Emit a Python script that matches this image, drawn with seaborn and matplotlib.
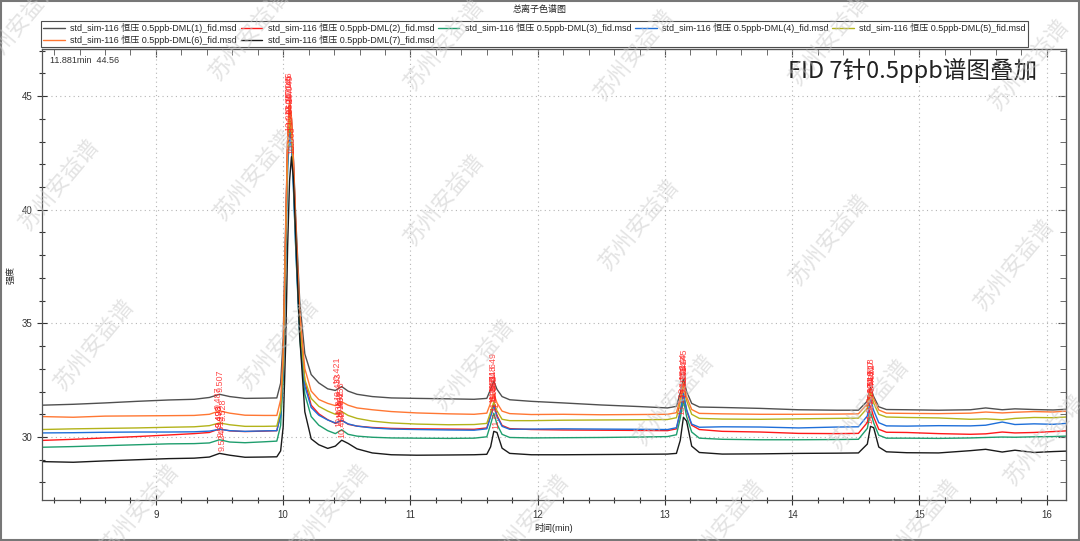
import numpy as np
import pandas as pd
import matplotlib
matplotlib.use("Agg")
import matplotlib.pyplot as plt
from matplotlib.patches import Rectangle
from matplotlib.ticker import MultipleLocator
import seaborn as sns

# 保留时间 (min)
time_min = [8.10, 8.35, 8.60, 8.85, 9.10, 9.30, 9.42, 9.50, 9.58, 9.70,
            9.85, 9.95, 9.98, 10.00, 10.02, 10.035, 10.05, 10.065, 10.08, 10.10,
            10.13, 10.17, 10.22, 10.28, 10.35, 10.41, 10.46, 10.51, 10.58, 10.70,
            10.85, 11.05, 11.30, 11.50, 11.60, 11.63, 11.655, 11.68, 11.72, 11.78,
            11.95, 12.20, 12.50, 12.80, 13.02, 13.09, 13.12, 13.145, 13.17, 13.21,
            13.27, 13.45, 13.75, 14.05, 14.35, 14.52, 14.59, 14.615, 14.64, 14.68,
            14.74, 14.90, 15.15, 15.40, 15.52, 15.65, 15.75, 15.90, 16.05, 16.15]

dml1 = [31.40, 31.44, 31.50, 31.57, 31.63, 31.66, 31.74, 31.88, 31.78, 31.70,
        31.71, 31.72, 32.37, 34.30, 39.46, 43.07, 44.62, 43.98, 42.30, 39.46,
        35.98, 33.66, 32.75, 32.38, 32.12, 32.05, 32.22, 32.02, 31.88, 31.78,
        31.72, 31.70, 31.68, 31.66, 31.70, 32.10, 32.46, 32.10, 31.78, 31.64,
        31.57, 31.50, 31.41, 31.34, 31.28, 31.35, 31.93, 32.58, 32.00, 31.48,
        31.32, 31.30, 31.26, 31.20, 31.18, 31.18, 31.58, 32.18, 31.78, 31.33,
        31.21, 31.20, 31.18, 31.20, 31.28, 31.20, 31.24, 31.21, 31.19, 31.22]
dml2 = [29.85, 29.90, 29.96, 30.02, 30.09, 30.15, 30.20, 30.36, 30.27, 30.24,
        30.26, 30.28, 31.01, 33.18, 38.98, 43.04, 44.78, 44.06, 42.17, 38.98,
        35.07, 32.46, 31.40, 31.02, 30.76, 30.60, 30.75, 30.56, 30.48, 30.42,
        30.38, 30.36, 30.35, 30.34, 30.40, 30.95, 31.44, 30.95, 30.51, 30.37,
        30.33, 30.31, 30.30, 30.29, 30.28, 30.36, 31.08, 31.88, 31.16, 30.52,
        30.33, 30.25, 30.22, 30.16, 30.15, 30.16, 30.64, 31.36, 30.88, 30.34,
        30.21, 30.20, 30.15, 30.12, 30.14, 30.22, 30.18, 30.20, 30.24, 30.27]
dml3 = [29.55, 29.58, 29.62, 29.66, 29.70, 29.71, 29.74, 29.88, 29.78, 29.75,
        29.79, 29.82, 30.51, 32.58, 38.10, 41.96, 43.62, 42.93, 41.14, 38.10,
        34.37, 31.89, 30.90, 30.52, 30.28, 30.15, 30.32, 30.12, 30.04, 29.99,
        29.96, 29.95, 29.94, 29.95, 30.01, 30.56, 31.05, 30.56, 30.12, 29.98,
        29.96, 29.97, 29.98, 30.00, 30.02, 30.10, 30.82, 31.62, 30.90, 30.22,
        29.95, 29.90, 29.88, 29.88, 29.89, 29.90, 30.38, 31.10, 30.62, 30.08,
        29.95, 29.95, 29.94, 29.96, 29.98, 30.00, 29.99, 30.01, 30.02, 30.04]
dml4 = [30.18, 30.19, 30.21, 30.22, 30.22, 30.23, 30.26, 30.34, 30.28, 30.25,
        30.27, 30.28, 30.94, 32.90, 38.14, 41.81, 43.38, 42.73, 41.02, 38.14,
        34.60, 32.25, 31.30, 30.96, 30.75, 30.62, 30.72, 30.58, 30.48, 30.40,
        30.35, 30.33, 30.31, 30.30, 30.36, 30.90, 31.40, 30.90, 30.47, 30.34,
        30.35, 30.36, 30.35, 30.34, 30.33, 30.41, 31.13, 31.93, 31.21, 30.57,
        30.43, 30.45, 30.44, 30.40, 30.44, 30.45, 30.93, 31.65, 31.17, 30.63,
        30.49, 30.48, 30.50, 30.49, 30.52, 30.66, 30.55, 30.58, 30.56, 30.60]
dml5 = [30.33, 30.36, 30.38, 30.40, 30.43, 30.45, 30.50, 30.62, 30.54, 30.47,
        30.47, 30.48, 31.16, 33.20, 38.64, 42.45, 44.08, 43.40, 41.63, 38.64,
        34.97, 32.52, 31.70, 31.35, 31.14, 31.00, 31.12, 30.95, 30.82, 30.70,
        30.62, 30.57, 30.54, 30.55, 30.60, 31.10, 31.55, 31.15, 30.78, 30.72,
        30.72, 30.74, 30.75, 30.76, 30.77, 30.85, 31.52, 32.27, 31.60, 31.00,
        30.82, 30.79, 30.78, 30.80, 30.82, 30.83, 31.27, 31.93, 31.49, 31.00,
        30.88, 30.86, 30.84, 30.78, 30.80, 30.76, 30.82, 30.86, 30.85, 30.88]
dml6 = [30.90, 30.87, 30.92, 30.93, 30.94, 30.95, 31.00, 31.15, 31.05, 30.96,
        30.95, 30.95, 31.64, 33.70, 39.20, 43.05, 44.70, 44.01, 42.23, 39.20,
        35.49, 33.01, 32.02, 31.65, 31.48, 31.38, 31.55, 31.40, 31.28, 31.20,
        31.12, 31.06, 31.02, 31.00, 31.05, 31.50, 31.90, 31.50, 31.14, 31.03,
        30.99, 31.00, 30.98, 30.99, 31.00, 31.07, 31.70, 32.40, 31.77, 31.21,
        31.04, 31.02, 31.00, 31.00, 31.01, 31.02, 31.46, 32.12, 31.68, 31.19,
        31.05, 31.04, 31.03, 31.05, 31.10, 31.06, 31.09, 31.12, 31.10, 31.14]
dml7 = [28.92, 28.89, 28.95, 29.00, 29.05, 29.07, 29.12, 29.28, 29.20, 29.11,
        29.12, 29.13, 29.39, 30.45, 34.15, 38.37, 41.27, 42.33, 41.41, 38.63,
        34.41, 31.11, 29.92, 29.66, 29.50, 29.60, 29.86, 29.72, 29.48, 29.30,
        29.22, 29.20, 29.21, 29.22, 29.24, 29.57, 30.25, 30.20, 29.51, 29.28,
        29.22, 29.22, 29.23, 29.24, 29.25, 29.28, 29.85, 30.87, 30.70, 29.60,
        29.32, 29.25, 29.26, 29.28, 29.29, 29.30, 29.69, 30.47, 30.41, 29.56,
        29.35, 29.31, 29.30, 29.40, 29.46, 29.34, 29.42, 29.32, 29.36, 29.38]

series_names = ["std_sim-116 恒压 0.5ppb-DML(%d)_fid.msd" % i for i in range(1, 8)]
series_values = [dml1, dml2, dml3, dml4, dml5, dml6, dml7]
colors = ["#505050", "#ff1a1a", "#1f9e6e", "#1e6fd9", "#b3b31a", "#ff7733", "#1a1a1a"]

# 峰标注 (保留时间)
peak_rt = [
    [9.507, 10.049, 10.421, 11.649, 13.145, 14.618],
    [9.498, 10.046, 10.452, 11.652, 13.148, 14.621],
    [9.512, 10.052, 10.438, 11.655, 13.151, 14.616],
    [9.493, 10.043, 10.447, 11.646, 13.142, 14.619],
    [9.528, 10.047, 10.456, 11.651, 13.147, 14.622],
    [9.487, 10.045, 10.433, 11.648, 13.144, 14.617],
    [9.524, 10.068, 10.462, 11.671, 13.136, 14.612],
]

sns.set_style("ticks")
plt.rcParams["font.family"] = ["Liberation Sans", "Noto Sans CJK SC", "DejaVu Sans"]

rows = []
for name, vals in zip(series_names, series_values):
    for t, v in zip(time_min, vals):
        rows.append((t, v, name))
df = pd.DataFrame(rows, columns=["时间", "强度", "样品"])

fig = plt.figure(figsize=(10.8, 5.41), dpi=100)
ax = fig.add_axes([0.0389, 0.0758, 0.948, 0.8336])

sns.lineplot(data=df, x="时间", y="强度", hue="样品", palette=colors,
             estimator=None, linewidth=1.0, ax=ax)

ax.set_xlim(8.105, 16.15)
ax.set_ylim(27.23, 47.07)
ax.xaxis.set_major_locator(MultipleLocator(1))
ax.xaxis.set_minor_locator(MultipleLocator(0.2))
ax.yaxis.set_major_locator(MultipleLocator(5))
ax.yaxis.set_minor_locator(MultipleLocator(1))
ax.grid(True, which="major", color="#b5b5b5", linestyle=(0, (1, 3)), linewidth=0.8)
ax.tick_params(which="both", labelsize=7, colors="#333333")
ax.tick_params(which="major", direction="inout", length=7, width=0.8)
ax.tick_params(which="minor", direction="inout", length=5, width=0.8)
for s in ax.spines.values():
    s.set_color("#555555")
    s.set_linewidth(0.9)

# 上、右边框的内向刻度
for side in ("top", "right"):
    if side == "top":
        sec = ax.secondary_xaxis("top")
    else:
        sec = ax.secondary_yaxis("right")
    loc_major = MultipleLocator(1) if side == "top" else MultipleLocator(5)
    loc_minor = MultipleLocator(0.2) if side == "top" else MultipleLocator(1)
    sec_axis = sec.xaxis if side == "top" else sec.yaxis
    sec_axis.set_major_locator(loc_major)
    sec_axis.set_minor_locator(loc_minor)
    sec.tick_params(which="both", direction="in", colors="#555555", labelsize=0,
                    labeltop=False, labelright=False)
    sec.tick_params(which="major", length=6)
    sec.tick_params(which="minor", length=4)
    sec.spines[side].set_color("#555555")

# 峰标注
t_arr = np.array(time_min)
for vals, rts, col in zip(series_values, peak_rt, colors):
    v_arr = np.array(vals)
    for rt in rts:
        near = np.abs(t_arr - rt) < 0.05
        top = v_arr[near].max()
        ax.text(rt, top + 0.1, "%.3f" % rt, rotation=90, ha="center", va="bottom",
                fontsize=6.5, color="#ff2020", alpha=0.8, zorder=5)

ax.set_xlabel("时间(min)", fontsize=6.5)
ax.set_ylabel("强度", fontsize=6.5)
ax.xaxis.set_label_coords(0.5, -0.052)
ax.yaxis.set_label_coords(-0.026, 0.5)

ax.text(0.008, 0.985, "11.881min  44.56", transform=ax.transAxes, fontsize=6.5,
        color="#333333", va="top", ha="left")

# 图例
handles, labels = ax.get_legend_handles_labels()
ax.get_legend().remove()
order = [0, 5, 1, 6, 2, 3, 4]
leg = fig.legend([handles[i] for i in order], [labels[i] for i in order],
                 ncol=5, loc="upper left", mode="expand",
                 bbox_to_anchor=(0.038, 0.961, 0.914, 0.0),
                 fontsize=6.5, frameon=True, fancybox=False, edgecolor="#222222",
                 handlelength=2.4, handletextpad=0.6, borderpad=0.25,
                 labelspacing=0.15, borderaxespad=0.0)
leg.get_frame().set_linewidth(0.8)

fig.text(0.5, 0.982, "总离子色谱图", ha="center", va="center", fontsize=6.5, color="#222222")
fig.text(0.7296, 0.870, "FID 7针0.5ppb谱图叠加", ha="left", va="center", fontsize=17,
         color="#222222", family=["Noto Sans CJK SC", "DejaVu Sans"])

# 水印
wm = [(20, 25), (250, 35), (445, 45), (635, 55), (830, 40), (1030, 65),
      (60, 185), (255, 175), (445, 200), (640, 225), (830, 240), (1015, 265),
      (95, 345), (280, 345), (475, 365), (675, 400), (870, 405), (1045, 440),
      (140, 510), (330, 510), (530, 520), (725, 525), (920, 525)]
for px, py in wm:
    fig.text(px / 1080, 1 - py / 541, "苏州安益谱", rotation=50, ha="center", va="center",
             fontsize=16, color="#c8c8c8", alpha=0.5, zorder=10,
             family=["Noto Sans CJK SC", "DejaVu Sans"])

fig.patches.append(Rectangle((0.001, 0.002), 0.998, 0.996, transform=fig.transFigure,
                             fill=False, edgecolor="#777777", linewidth=1.5))

fig.savefig("out.png", dpi=100)
